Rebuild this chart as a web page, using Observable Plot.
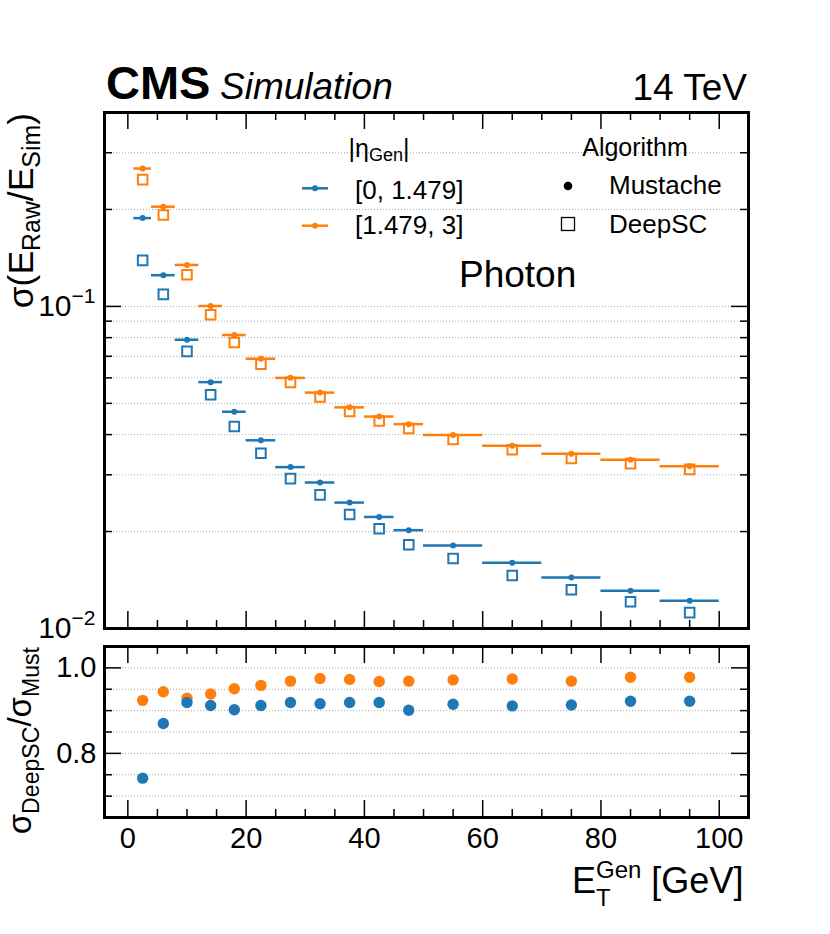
<!DOCTYPE html>
<html><head><meta charset="utf-8">
<script src="https://cdn.jsdelivr.net/npm/d3@7"></script>
<script src="https://cdn.jsdelivr.net/npm/@observablehq/plot@0.6"></script>
<style>
html,body{margin:0;padding:0;background:#fff;overflow:hidden}
#wrap{position:relative;width:830px;height:934px;background:#fff}
#wrap svg{position:absolute;left:0;top:0;max-width:none}
</style></head><body><div id="wrap"></div>
<script>
// ---- data ----
const etLow    = [1, 4, 8, 12, 16, 20, 25, 30, 35, 40, 45, 50, 60, 70, 80, 90];
const etHigh   = [4, 8, 12, 16, 20, 25, 30, 35, 40, 45, 50, 60, 70, 80, 90, 100];
const etCenter = [2.5, 6, 10, 14, 18, 22.5, 27.5, 32.5, 37.5, 42.5, 47.5, 55, 65, 75, 85, 95];
const barrelMustache = [0.188, 0.125, 0.0788, 0.0582, 0.0471, 0.0384, 0.0317, 0.0284, 0.0246, 0.0222, 0.0202, 0.0181, 0.0160, 0.0144, 0.0131, 0.0122];
const barrelDeepSC   = [0.139, 0.109, 0.0725, 0.0532, 0.0424, 0.0350, 0.0292, 0.0260, 0.0226, 0.0204, 0.0182, 0.0165, 0.0146, 0.0132, 0.0121, 0.0112];
const endcapMustache = [0.268, 0.204, 0.1345, 0.1003, 0.0815, 0.0688, 0.0600, 0.0540, 0.0486, 0.0455, 0.0431, 0.0399, 0.0369, 0.0349, 0.0334, 0.0319];
const endcapDeepSC   = [0.2475, 0.1923, 0.1254, 0.0942, 0.0773, 0.0662, 0.0581, 0.0523, 0.0472, 0.0441, 0.0418, 0.0386, 0.0359, 0.0337, 0.0325, 0.0312];
const barrelRatio = [0.742, 0.870, 0.919, 0.912, 0.902, 0.912, 0.919, 0.916, 0.919, 0.919, 0.901, 0.915, 0.911, 0.913, 0.922, 0.922];
const endcapRatio = [0.924, 0.944, 0.929, 0.939, 0.951, 0.959, 0.969, 0.975, 0.973, 0.968, 0.969, 0.972, 0.974, 0.969, 0.978, 0.978];

const xMajorTicks = [0, 20, 40, 60, 80, 100];
const xMinorTicks = [5, 10, 15, 25, 30, 35, 45, 50, 55, 65, 70, 75, 85, 90, 95];
const yTopMajor = [0.01, 0.1];
const yTopMinor = [0.02, 0.03, 0.04, 0.05, 0.06, 0.07, 0.08, 0.09, 0.2, 0.3, 0.4];
const yTopGrid  = [0.02, 0.03, 0.04, 0.05, 0.06, 0.07, 0.08, 0.09, 0.1, 0.2, 0.3];
const yBotMajor = [0.8, 1.0];
const yBotMinor = [0.7, 0.75, 0.85, 0.9, 0.95];
const yBotGrid  = [0.7, 0.75, 0.8, 0.85, 0.9, 0.95, 1.0];
const etaLabels = ["[0, 1.479]", "[1.479, 3]"];
const algoLabels = ["Mustache", "DeepSC"];

// ---- layout / style ----
const FONT = '"Liberation Sans", Arial, Helvetica, sans-serif';
const W = 830, H = 934;
const FL = 104, FR = 748;
const TOP_T = 112, TOP_B = 628, BOT_T = 646, BOT_B = 817;
const X_DOMAIN = [-3.95, 104.95];
const blue = "#1f77b4", orange = "#ff7f0e";
const gridStyle = {stroke: "#aaa", strokeOpacity: 1, strokeWidth: 1, strokeDasharray: "1,2"};

const rows = etCenter.map((c, i) => ({
  c, lo: etLow[i], hi: etHigh[i],
  bM: barrelMustache[i], bD: barrelDeepSC[i], eM: endcapMustache[i], eD: endcapDeepSC[i],
  bR: barrelRatio[i], eR: endcapRatio[i]
}));

function frameTicks(fh, fw, yMajor, yMinor) {
  const L = 17, S = 8, t = {stroke: "black", strokeWidth: 1.5};
  return [
    Plot.tickX(xMajorTicks, {x: d => d, insetTop: fh - L, ...t}),
    Plot.tickX(xMajorTicks, {x: d => d, insetBottom: fh - L, ...t}),
    Plot.tickX(xMinorTicks, {x: d => d, insetTop: fh - S, ...t}),
    Plot.tickX(xMinorTicks, {x: d => d, insetBottom: fh - S, ...t}),
    Plot.tickY(yMajor, {y: d => d, insetRight: fw - L, ...t}),
    Plot.tickY(yMajor, {y: d => d, insetLeft: fw - L, ...t}),
    Plot.tickY(yMinor, {y: d => d, insetRight: fw - S, ...t}),
    Plot.tickY(yMinor, {y: d => d, insetLeft: fw - S, ...t})
  ];
}

const fw = FR - FL;
const topPlot = Plot.plot({
  width: W, height: H,
  marginTop: TOP_T, marginBottom: H - TOP_B, marginLeft: FL, marginRight: W - FR,
  style: {fontFamily: FONT, background: "transparent", overflow: "visible", color: "black"},
  x: {domain: X_DOMAIN, axis: null},
  y: {type: "log", domain: [0.01, 0.4], axis: null},
  marks: [
    Plot.gridY(yTopGrid, gridStyle),
    ...frameTicks(TOP_B - TOP_T, fw, yTopMajor, yTopMinor),
    Plot.ruleY(rows, {y: "bM", x1: "lo", x2: "hi", stroke: blue, strokeWidth: 2.5}),
    Plot.ruleY(rows, {y: "eM", x1: "lo", x2: "hi", stroke: orange, strokeWidth: 2.5}),
    Plot.dot(rows, {x: "c", y: "bM", r: 3, fill: blue}),
    Plot.dot(rows, {x: "c", y: "eM", r: 3, fill: orange}),
    Plot.dot(rows, {x: "c", y: "bD", symbol: "square", r: 5.4, stroke: blue, strokeWidth: 2, fill: "none"}),
    Plot.dot(rows, {x: "c", y: "eD", symbol: "square", r: 5.4, stroke: orange, strokeWidth: 2, fill: "none"}),
    Plot.axisY(yTopMajor, {tickSize: 0, tickPadding: 9, fontSize: 30, label: null,
      tickFormat: d => "10^\u2212" + Math.round(-Math.log10(d))}),
    Plot.frame({stroke: "black", strokeWidth: 3})
  ]
});

const botPlot = Plot.plot({
  width: W, height: H,
  marginTop: BOT_T, marginBottom: H - BOT_B, marginLeft: FL, marginRight: W - FR,
  style: {fontFamily: FONT, background: "transparent", overflow: "visible", color: "black"},
  x: {domain: X_DOMAIN, axis: null},
  y: {domain: [0.65, 1.05], axis: null},
  marks: [
    Plot.gridY(yBotGrid, gridStyle),
    ...frameTicks(BOT_B - BOT_T, fw, yBotMajor, yBotMinor),
    Plot.dot(rows, {x: "c", y: "eR", r: 5.7, fill: orange}),
    Plot.dot(rows, {x: "c", y: "bR", r: 5.7, fill: blue}),
    Plot.axisY(yBotMajor, {tickSize: 0, tickPadding: 8, fontSize: 29, label: null, tickFormat: d3.format(".1f")}),
    Plot.axisX(xMajorTicks, {tickSize: 0, tickPadding: 10, fontSize: 29, label: null, tickFormat: d3.format("d")}),
    Plot.frame({stroke: "black", strokeWidth: 3})
  ]
});

// superscript exponent for log tick labels
d3.select(topPlot).selectAll('g[aria-label="y-axis tick label"] text').each(function () {
  const t = this.textContent;
  if (!t.includes("^")) return;
  const [b, e] = t.split("^");
  const s = d3.select(this);
  s.text(null);
  s.append("tspan").text(b);
  s.append("tspan").attr("font-size", 21).attr("dy", -13).text(e);
});

const wrap = document.getElementById("wrap");
wrap.appendChild(topPlot);
wrap.appendChild(botPlot);

// ---- overlay: header, axis labels, legends ----
const ov = d3.create("svg").attr("width", W).attr("height", H).attr("viewBox", `0 0 ${W} ${H}`)
  .style("font-family", FONT).style("overflow", "visible");

ov.append("text").attr("x", 106).attr("y", 99).attr("font-size", 47).attr("font-weight", "bold").text("CMS");
ov.append("text").attr("x", 220).attr("y", 99).attr("font-size", 37).attr("font-style", "italic").text("Simulation");
ov.append("text").attr("x", 747).attr("y", 100).attr("font-size", 37).attr("text-anchor", "end").text("14 TeV");

// math-like label builder: parts = [[text, "n"|"sub"]]
function mathText(g, parts, fs, drop) {
  const sub = fs * 0.7;
  let cur = 0;
  parts.forEach(([txt, kind]) => {
    const target = kind === "sub" ? drop : 0;
    g.append("tspan").attr("dy", target - cur).attr("font-size", kind === "sub" ? sub : fs).text(txt);
    cur = target;
  });
}
const yl1 = ov.append("text").attr("transform", "translate(32.5,113) rotate(-90)").attr("text-anchor", "end").attr("font-size", 35.5);
mathText(yl1, [["\u03c3(E", "n"], ["Raw", "sub"], ["/E", "n"], ["Sim", "sub"], [")", "n"]], 35.5, 7.8);
const yl2 = ov.append("text").attr("transform", "translate(31,647) rotate(-90)").attr("text-anchor", "end").attr("font-size", 33);
mathText(yl2, [["\u03c3", "n"], ["DeepSC", "sub"], ["/\u03c3", "n"], ["Must", "sub"]], 33, 7.5);

// x label E_T^Gen [GeV]
const xl = ov.append("text").attr("x", 572).attr("y", 893).attr("font-size", 36);
xl.append("tspan").text("E");
xl.append("tspan").attr("font-size", 24).attr("dy", 13).text("T");
xl.append("tspan").attr("font-size", 24).attr("dx", -14.7).attr("dy", -28).text("Gen");
xl.append("tspan").attr("font-size", 36).attr("dy", 15).text(" [GeV]");

// eta legend
const et = ov.append("text").attr("x", 379).attr("y", 157).attr("font-size", 25).attr("text-anchor", "middle");
et.append("tspan").text("|\u03b7");
et.append("tspan").attr("font-size", 18).attr("dy", 4).text("Gen");
et.append("tspan").attr("dy", -4).text("|");
[[blue, 188.3, 198.5], [orange, 225.7, 234]].forEach(([col, ly, ty], i) => {
  ov.append("line").attr("x1", 302).attr("x2", 328).attr("y1", ly).attr("y2", ly).attr("stroke", col).attr("stroke-width", 2.5);
  ov.append("circle").attr("cx", 315).attr("cy", ly).attr("r", 3).attr("fill", col);
  ov.append("text").attr("x", 355).attr("y", ty).attr("font-size", 26).text(etaLabels[i]);
});

// algorithm legend
ov.append("text").attr("x", 635).attr("y", 156).attr("font-size", 25).attr("text-anchor", "middle").text("Algorithm");
ov.append("circle").attr("cx", 568).attr("cy", 186).attr("r", 4.3).attr("fill", "black");
ov.append("text").attr("x", 609).attr("y", 194).attr("font-size", 26).text(algoLabels[0]);
ov.append("rect").attr("x", 561.5).attr("y", 217.5).attr("width", 13).attr("height", 13).attr("fill", "none").attr("stroke", "black").attr("stroke-width", 1.3);
ov.append("text").attr("x", 609).attr("y", 232.5).attr("font-size", 26).text(algoLabels[1]);

ov.append("text").attr("x", 459).attr("y", 287).attr("font-size", 37).text("Photon");

wrap.appendChild(ov.node());
</script></body></html>
